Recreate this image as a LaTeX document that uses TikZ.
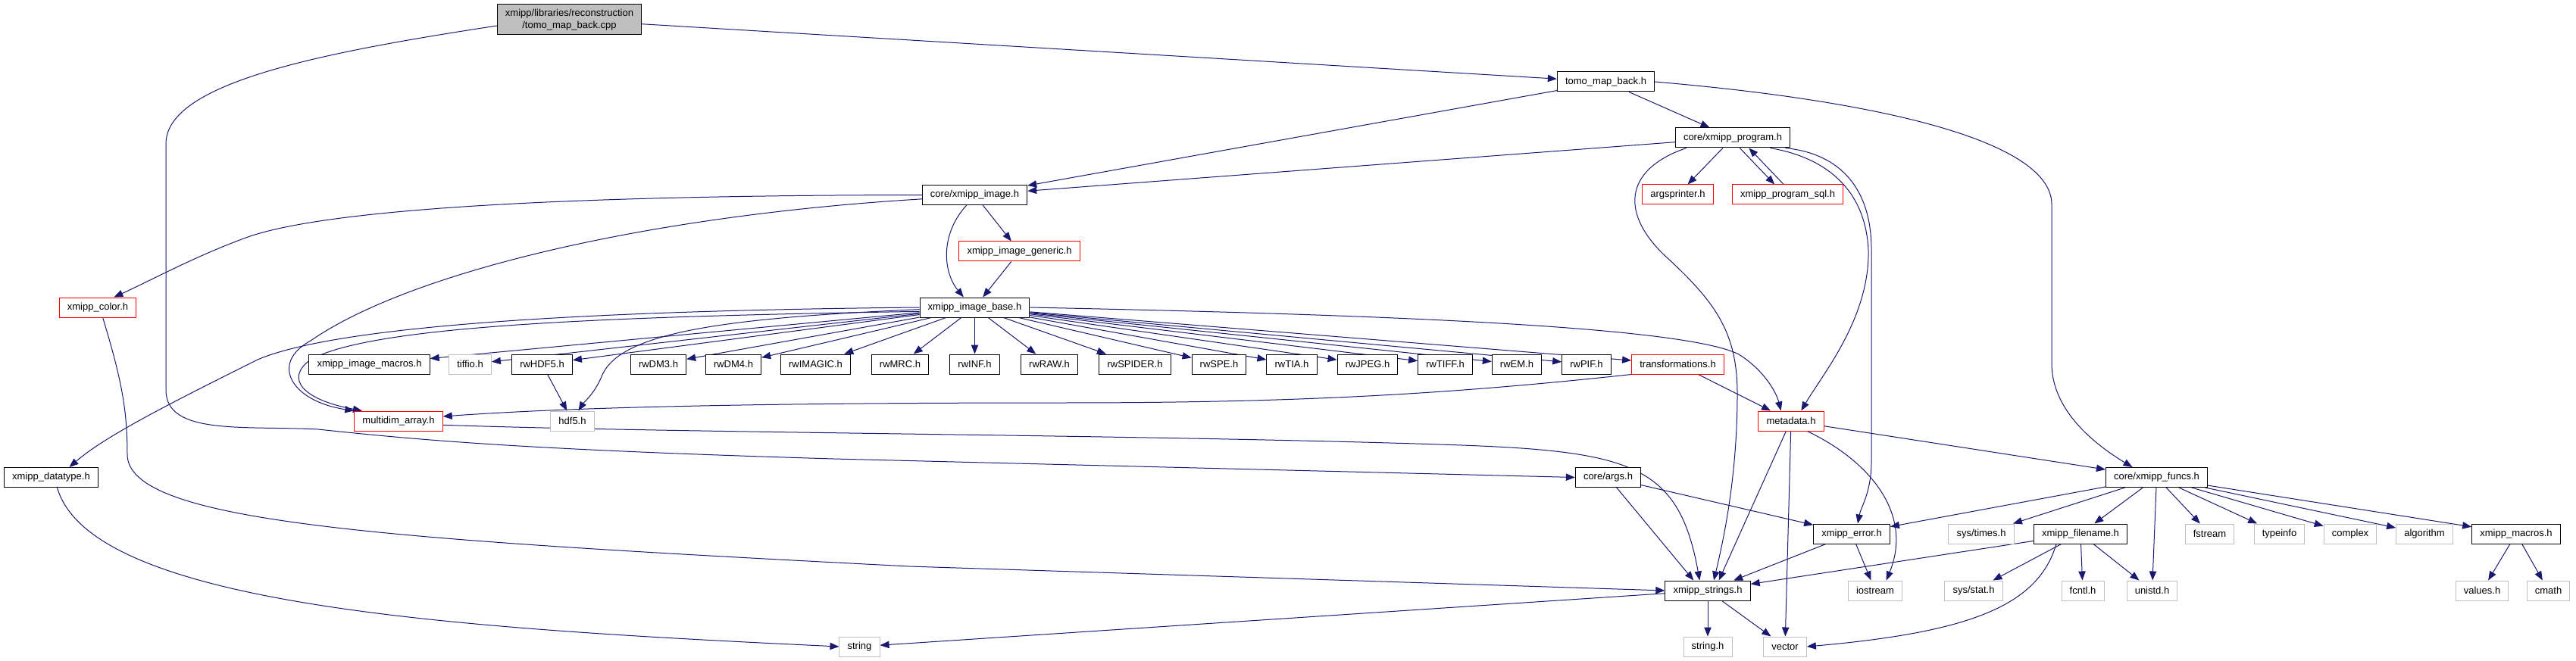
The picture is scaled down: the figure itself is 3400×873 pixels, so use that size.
\documentclass[tikz,border=0pt]{standalone}
\usepackage{fontspec}
\setmainfont{Liberation Sans}
\usetikzlibrary{arrows.meta,backgrounds}
\definecolor{edgeBlue}{RGB}{25,25,112}
\definecolor{sysGray}{RGB}{191,191,191}
\tikzset{
  hnode/.style={draw=black, line width=0.75pt, fill=white, inner xsep=8pt, inner ysep=0pt,
    minimum height=19.5pt, font=\fontsize{9.75}{12}\selectfont},
  hred/.style={hnode, draw=red},
  hsys/.style={hnode, draw=sysGray},
  incl/.style={edgeBlue, line width=0.75pt, -{Triangle[length=9pt,width=7pt]}},
}

\begin{document}
\begin{tikzpicture}[x=0.75pt, y=-0.75pt]
  \useasboundingbox (0,0) rectangle (3400,873);

  % top of the graph
  \node[hnode, fill=sysGray, align=center, minimum height=30pt] (root) at (751.5,26)
    {xmipp/libraries/reconstruction\\/tomo\_map\_back.cpp};
  \node[hnode] (tmb) at (2119.5,108) {tomo\_map\_back.h};
  \node[hnode] (prog) at (2287,182) {core/xmipp\_program.h};
  \node[hnode] (img) at (1286.5,257.5) {core/xmipp\_image.h};
  \node[hred] (argsp) at (2214.5,257) {argsprinter.h};
  \node[hred] (sql) at (2359.5,257) {xmipp\_program\_sql.h};
  \node[hred] (generic) at (1345.5,332) {xmipp\_image\_generic.h};
  \node[hred] (color) at (129,406) {xmipp\_color.h};
  \node[hnode] (base) at (1286.5,406) {xmipp\_image\_base.h};

  % image formats row
  \node[hnode] (macros) at (487.5,481) {xmipp\_image\_macros.h};
  \node[hsys] (tiffio) at (620.5,481) {tiffio.h};
  \foreach \n/\x in {HDF5/715.5, DM3/869, DM4/968, IMAGIC/1076.5, MRC/1188, INF/1286.5,
      RAW/1385, SPIDER/1498, SPE/1609, TIA/1705, JPEG/1805, TIFF/1907.5, EM/2002, PIF/2094}
    \node[hnode] (rw\n) at (\x,481) {rw\n.h};
  \node[hred] (transf) at (2214.5,481) {transformations.h};

  \node[hred] (mdarr) at (526,556) {multidim\_array.h};
  \node[hsys] (hdf5) at (755.5,556) {hdf5.h};
  \node[hred] (metadata) at (2364,556) {metadata.h};

  \node[hnode] (datatype) at (67.5,630.5) {xmipp\_datatype.h};
  \node[hnode] (args) at (2122.5,630.5) {core/args.h};
  \node[hnode] (funcs) at (2846.5,630.5) {core/xmipp\_funcs.h};

  \node[hnode] (error) at (2444,705) {xmipp\_error.h};
  \node[hsys] (times) at (2615,705) {sys/times.h};
  \node[hnode] (filename) at (2746,705) {xmipp\_filename.h};
  \node[hsys] (fstream) at (2916.5,705) {fstream};
  \node[hsys] (typeinfo) at (3008.5,705) {typeinfo};
  \node[hsys] (complex) at (3102,705) {complex};
  \node[hsys] (algorithm) at (3200,705) {algorithm};
  \node[hnode] (macrosh) at (3321,705) {xmipp\_macros.h};

  \node[hnode] (strings) at (2254,780) {xmipp\_strings.h};
  \node[hsys] (iostream) at (2475,780) {iostream};
  \node[hsys] (sysstat) at (2605,780) {sys/stat.h};
  \node[hsys] (fcntl) at (2749,780) {fcntl.h};
  \node[hsys] (unistd) at (2840.5,780) {unistd.h};
  \node[hsys] (values) at (3276,780) {values.h};
  \node[hsys] (cmath) at (3363.5,780) {cmath};

  \node[hsys] (string) at (1134.5,854) {string};
  \node[hsys] (stringh) at (2254,854) {string.h};
  \node[hsys] (vector) at (2356,854) {vector};

  \begin{scope}[on background layer]
    % from the source file
    \draw[incl] (root) -- (tmb);
    \draw[incl] ([yshift=-6pt]root.west) .. controls (420,70) and (219,110) .. (219,190)
      -- (219,515) .. controls (219,575) and (320,562) .. (420,567)
      .. controls (560,582) and (700,594) .. (1100,606) -- (args.west);

    % tomo_map_back.h
    \draw[incl] (tmb) -- (img);
    \draw[incl] (tmb) -- (prog);
    \draw[incl] (tmb.east) .. controls (2500,135) and (2708,190) .. (2708,270) -- (2708,480)
      .. controls (2708,545) and (2770,590) .. ([xshift=-24pt]funcs.north);

    % core/xmipp_program.h
    \draw[incl] (prog) -- (img);
    \draw[incl] (prog) -- (argsp);
    \draw[incl] ([xshift=7pt]prog.south) -- ([xshift=-13pt]sql.north);
    \draw[incl] ([xshift=-4pt]sql.north) -- ([xshift=16pt]prog.south);
    \draw[incl] ([xshift=-46pt]prog.south) .. controls (2140,225) and (2140,285) .. (2200,340)
      .. controls (2265,400) and (2293,440) .. (2293,520)
      .. controls (2293,620) and (2278,700) .. ([xshift=6pt]strings.north);
    \draw[incl] ([xshift=37pt]prog.south) .. controls (2410,208) and (2462,250) .. (2466,330)
      .. controls (2468,420) and (2405,495) .. ([xshift=10pt]metadata.north);
    \draw[incl] ([xshift=52pt]prog.south) .. controls (2430,203) and (2470,250) .. (2470,330)
      -- (2470,610) .. controls (2470,650) and (2456,670) .. ([xshift=6pt]error.north);

    % core/xmipp_image.h
    \draw[incl] (img.west) .. controls (800,258) and (450,272) .. (330,312)
      .. controls (260,337) and (200,370) .. ([xshift=16pt]color.north);
    \draw[incl] ([yshift=-4pt]img.west) .. controls (850,285) and (540,360) .. (410,450)
      .. controls (355,480) and (385,530) .. (mdarr.north west);
    \draw[incl] (img) -- (generic);
    \draw[incl] ([xshift=-8pt]img.south) .. controls (1240,310) and (1245,360) .. ([xshift=-11pt]base.north);
    \draw[incl] (generic) -- (base);

    % xmipp_image_base.h
    \foreach \h in {macros,tiffio,rwHDF5,rwDM3,rwDM4,rwIMAGIC,rwMRC,rwINF,rwRAW,rwSPIDER,
        rwSPE,rwTIA,rwJPEG,rwTIFF,rwEM,rwPIF,transf}
      \draw[incl] (base) -- (\h);
    \draw[incl] ([yshift=-2pt]base.west) .. controls (950,420) and (820,440) .. (795,495)
      .. controls (785,520) and (770,532) .. ([xshift=6pt]hdf5.north);
    \draw[incl] (rwHDF5) -- (hdf5);
    \draw[incl] (base.west) .. controls (800,410) and (450,428) .. (340,475)
      .. controls (230,530) and (140,575) .. ([xshift=18pt]datatype.north);
    \draw[incl] ([yshift=-4pt]base.west) .. controls (800,418) and (490,430) .. (410,475)
      .. controls (375,500) and (400,528) .. ([xshift=8pt]mdarr.north west);
    \draw[incl] (base.east) .. controls (1800,415) and (2220,430) .. (2295,468)
      .. controls (2330,490) and (2345,520) .. ([xshift=-10pt]metadata.north);

    % transformations.h, multidim_array.h
    \draw[incl] (transf.south west) .. controls (1900,522) and (1700,532) .. (1400,532)
      .. controls (1000,532) and (750,538) .. ([yshift=4.5pt]mdarr.east);
    \draw[incl] (transf) -- (metadata);
    \draw[incl] ([yshift=-4pt]mdarr.east) .. controls (900,572) and (1500,574) .. (1900,587)
      .. controls (2150,595) and (2215,610) .. ([xshift=-8pt]strings.north);

    % metadata.h
    \draw[incl] (metadata) -- (funcs);
    \draw[incl] ([xshift=-5pt]metadata.south) -- ([xshift=11pt]strings.north);
    \draw[incl] (metadata) -- (vector);
    \draw[incl] ([xshift=16pt]metadata.south) .. controls (2470,610) and (2525,680) .. ([xshift=11pt]iostream.north);

    % core/args.h, xmipp_error.h
    \draw[incl] (args) -- ([xshift=-14pt]strings.north);
    \draw[incl] (args) -- (error);
    \draw[incl] (error) -- (strings);
    \draw[incl] (error) -- (iostream);

    % core/xmipp_funcs.h
    \foreach \h in {error,times,filename,unistd,fstream,typeinfo,complex,algorithm,macrosh}
      \draw[incl] (funcs) -- (\h);

    % xmipp_filename.h
    \foreach \h in {strings,sysstat,fcntl,unistd}
      \draw[incl] (filename) -- (\h);
    \draw[incl] ([xshift=-24pt]filename.south) .. controls (2690,800) and (2600,835) .. (vector.east);

    % xmipp_macros.h
    \draw[incl] (macrosh) -- (values);
    \draw[incl] (macrosh) -- (cmath);

    % xmipp_strings.h
    \draw[incl] (strings) -- (stringh);
    \draw[incl] (strings) -- (vector);
    \draw[incl] (strings) -- (string);

    % left side
    \draw[incl] ([xshift=6pt]datatype.south) .. controls (120,800) and (600,830) .. (string.west);
    \draw[incl] ([xshift=5pt]color.south) .. controls (160,500) and (168,540) .. (168,600)
      .. controls (168,690) and (500,712) .. (1200,748) -- (strings.west);
  \end{scope}
\end{tikzpicture}
\end{document}
